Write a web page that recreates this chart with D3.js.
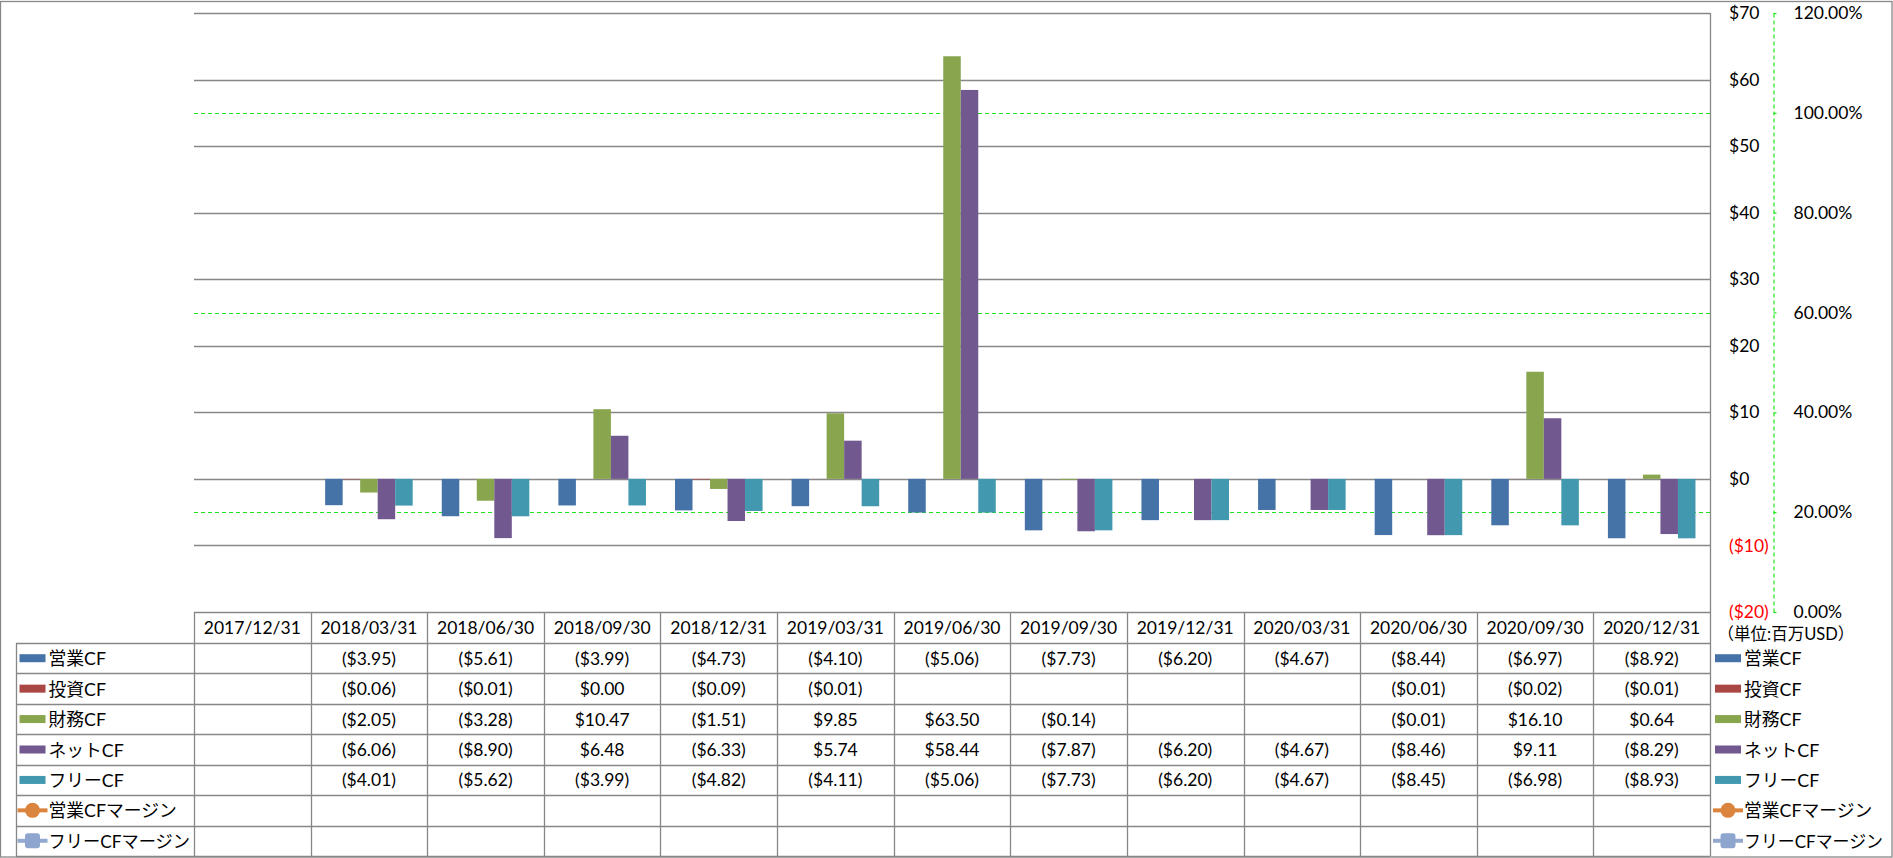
<!DOCTYPE html>
<html>
<head>
<meta charset="utf-8">
<script src="https://cdn.jsdelivr.net/npm/d3@7"></script>
<style>
  html, body { margin: 0; padding: 0; background: #fff; }
  svg { display: block; }
  text { font-family: Lato, "Noto Sans CJK JP", sans-serif; fill: #000; }
</style>
</head>
<body>
<svg id="chart" width="1893" height="858"></svg>
<script>
// ---------- data ----------
const categories = ["2017/12/31","2018/03/31","2018/06/30","2018/09/30","2018/12/31","2019/03/31","2019/06/30","2019/09/30","2019/12/31","2020/03/31","2020/06/30","2020/09/30","2020/12/31"];
const barSeries = ["営業CF","投資CF","財務CF","ネットCF","フリーCF"];
const lineSeries = ["営業CFマージン","フリーCFマージン"];
const opCF   = [null,-3.95,-5.61,-3.99,-4.73,-4.10,-5.06,-7.73,-6.20,-4.67,-8.44,-6.97,-8.92];
const invCF  = [null,-0.06,-0.01, 0.00,-0.09,-0.01, null, null, null, null,-0.01,-0.02,-0.01];
const finCF  = [null,-2.05,-3.28,10.47,-1.51, 9.85,63.50,-0.14, null, null,-0.01,16.10, 0.64];
const netCF  = [null,-6.06,-8.90, 6.48,-6.33, 5.74,58.44,-7.87,-6.20,-4.67,-8.46, 9.11,-8.29];
const freeCF = [null,-4.01,-5.62,-3.99,-4.82,-4.11,-5.06,-7.73,-6.20,-4.67,-8.45,-6.98,-8.93];
const opMargin   = [null,null,null,null,null,null,null,null,null,null,null,null,null];
const freeMargin = [null,null,null,null,null,null,null,null,null,null,null,null,null];
const usdTicks = [-20,-10,0,10,20,30,40,50,60,70];
const pctTicks = [0,0.2,0.4,0.6,0.8,1.0,1.2];
const unitLabel = "（単位:百万USD）";

const barValues = [opCF, invCF, finCF, netCF, freeCF];
const lineValues = [opMargin, freeMargin];
const barColors = ["#4572A7","#AA4643","#89A54E","#71588F","#4198AF"];
const lineColors = ["#DB843D","#93A9CF"];

// ---------- layout ----------
const W = 1893, H = 858;
const plotL = 194, plotR = 1710, plotT = 13, plotB = 612;
const tableTop = 612, headerB = 643, tableB = 856, labelL = 16;
const gridColor = "#878787";
const fontSize = 17.5;
const labelFont = 17.8;

const svg = d3.select("#chart");

const x = d3.scaleBand().domain(categories).range([plotL, plotR]).paddingInner(0).paddingOuter(0);
const xs = d3.scaleBand().domain(barSeries).range([0, x.bandwidth()]).paddingInner(0).paddingOuter(0.83);
const y = d3.scaleLinear().domain([-20, 70]).range([plotB, plotT]);
const y2 = d3.scaleLinear().domain([0, 1.2]).range([plotB, plotT]);

// outer border
svg.append("rect").attr("x", 0.5).attr("y", 1.5).attr("width", W - 1.5).attr("height", H - 2.5)
  .attr("fill", "none").attr("stroke", gridColor).attr("stroke-width", 1.3);

// green dashed gridlines (secondary axis)
svg.append("g").selectAll("line").data(pctTicks).join("line")
  .attr("x1", plotL).attr("x2", plotR)
  .attr("y1", d => Math.round(y2(d)) + 0.5).attr("y2", d => Math.round(y2(d)) + 0.5)
  .attr("stroke", "#1EE61E").attr("stroke-width", 1.2).attr("stroke-dasharray", "4,3");

// grey gridlines (primary axis)
svg.append("g").selectAll("line").data(usdTicks.filter(d => d > -20)).join("line")
  .attr("x1", plotL).attr("x2", plotR)
  .attr("y1", d => Math.round(y(d)) + 0.5).attr("y2", d => Math.round(y(d)) + 0.5)
  .attr("stroke", gridColor).attr("stroke-width", 1.3);

// plot right border
svg.append("line").attr("x1", plotR + 0.5).attr("x2", plotR + 0.5).attr("y1", plotT).attr("y2", tableB)
  .attr("stroke", gridColor).attr("stroke-width", 1.3);

// bars
const barG = svg.append("g");
barSeries.forEach((s, si) => {
  const data = categories.map((c, ci) => ({c, v: barValues[si][ci]})).filter(d => d.v != null);
  barG.append("g").selectAll("rect").data(data).join("rect")
    .attr("x", d => x(d.c) + xs(s))
    .attr("width", xs.bandwidth())
    .attr("y", d => y(Math.max(0, d.v)))
    .attr("height", d => Math.abs(y(d.v) - y(0)))
    .attr("fill", barColors[si]);
});

// margin lines (no data)
lineSeries.forEach((s, li) => {
  const pts = categories.map((c, ci) => ({c, v: lineValues[li][ci]})).filter(d => d.v != null);
  svg.append("path").datum(pts)
    .attr("fill", "none").attr("stroke", lineColors[li]).attr("stroke-width", 3)
    .attr("d", d3.line().x(d => x(d.c) + x.bandwidth() / 2).y(d => y2(d.v)));
});

// primary right axis ($)
const fmtUSD = v => v < 0 ? "($" + (-v) + ")" : "$" + v;
const axisUSD = svg.append("g").attr("transform", `translate(${plotR},0)`)
  .call(d3.axisRight(y).tickValues(usdTicks).tickFormat(fmtUSD).tickSize(0).tickPadding(19));
axisUSD.select(".domain").remove();
axisUSD.selectAll("text").attr("font-size", fontSize).attr("font-family", "Lato, sans-serif")
  .style("fill", d => d < 0 ? "#FF0000" : "#000");

// secondary axis (%)
const axisPct = svg.append("g").attr("transform", "translate(1773.5,0)")
  .call(d3.axisRight(y2).tickValues(pctTicks).tickFormat(d3.format(".2%")).tickSizeInner(3).tickSizeOuter(0).tickPadding(17));
axisPct.select(".domain").attr("stroke", "#1EE61E").attr("stroke-width", 1.2).attr("stroke-dasharray", "4,3");
axisPct.selectAll(".tick line").attr("stroke", "#1EE61E").attr("stroke-width", 1.2);
axisPct.selectAll("text").attr("font-size", fontSize).attr("font-family", "Lato, sans-serif").style("fill", "#000");

// ---------- data table ----------
const rowLabels = barSeries.concat(lineSeries);
const rowH = (tableB - headerB) / rowLabels.length;
const tg = svg.append("g");

// horizontal lines
tg.append("line").attr("x1", plotL).attr("x2", plotR).attr("y1", tableTop + 0.5).attr("y2", tableTop + 0.5)
  .attr("stroke", gridColor).attr("stroke-width", 1.3);
tg.selectAll("line.h").data(d3.range(rowLabels.length + 1)).join("line").attr("class", "h")
  .attr("x1", labelL).attr("x2", plotR)
  .attr("y1", i => Math.round(headerB + i * rowH) + 0.5).attr("y2", i => Math.round(headerB + i * rowH) + 0.5)
  .attr("stroke", gridColor).attr("stroke-width", 1.3);
// vertical lines
tg.selectAll("line.v").data(categories).join("line").attr("class", "v")
  .attr("x1", c => Math.round(x(c)) + 0.5).attr("x2", c => Math.round(x(c)) + 0.5)
  .attr("y1", tableTop).attr("y2", tableB)
  .attr("stroke", gridColor).attr("stroke-width", 1.3);
tg.append("line").attr("x1", labelL + 0.5).attr("x2", labelL + 0.5).attr("y1", headerB).attr("y2", tableB)
  .attr("stroke", gridColor).attr("stroke-width", 1.3);

// header text
tg.selectAll("text.hd").data(categories).join("text").attr("class", "hd")
  .attr("x", c => x(c) + x.bandwidth() / 2).attr("y", (tableTop + headerB) / 2)
  .attr("text-anchor", "middle").attr("dominant-baseline", "central")
  .attr("font-size", fontSize).text(c => c);

// values
const fmtVal = v => v == null ? "" : (v < 0 ? "($" + (-v).toFixed(2) + ")" : "$" + v.toFixed(2));
barSeries.forEach((s, si) => {
  tg.append("g").selectAll("text").data(categories.map((c, ci) => ({c, v: barValues[si][ci]}))).join("text")
    .attr("x", d => x(d.c) + x.bandwidth() / 2)
    .attr("y", headerB + (si + 0.5) * rowH)
    .attr("text-anchor", "middle").attr("dominant-baseline", "central")
    .attr("font-size", fontSize).text(d => fmtVal(d.v));
});

// legend keys (row labels, left) and right legend
function drawKey(g, i, kx, maxRight) {
  const cy = headerB + (i + 0.5) * rowH;
  if (i < barSeries.length) {
    g.append("rect").attr("x", kx).attr("y", cy - 4).attr("width", 26).attr("height", 8).attr("fill", barColors[i]);
  } else {
    const li = i - barSeries.length;
    g.append("line").attr("x1", kx - 2).attr("x2", kx + 28).attr("y1", cy).attr("y2", cy)
      .attr("stroke", lineColors[li]).attr("stroke-width", 4);
    if (li === 0) {
      g.append("circle").attr("cx", kx + 13).attr("cy", cy).attr("r", 7.5).attr("fill", lineColors[li]);
    } else {
      g.append("rect").attr("x", kx + 5.5).attr("y", cy - 7.5).attr("width", 15).attr("height", 15)
        .attr("rx", 3).attr("fill", "#8EA5CD");
    }
  }
  const t = g.append("text").attr("x", kx + 29).attr("y", cy).attr("dominant-baseline", "central")
    .attr("font-size", labelFont).text(rowLabels[i]);
  const avail = maxRight - (kx + 29);
  const len = t.node().getComputedTextLength();
  if (len > avail) t.attr("textLength", avail).attr("lengthAdjust", "spacingAndGlyphs");
}
const leftKeys = svg.append("g");
const rightKeys = svg.append("g");
rowLabels.forEach((s, i) => { drawKey(leftKeys, i, 19.5, plotL - 4); drawKey(rightKeys, i, 1715, W - 10); });

// unit label
svg.append("text").attr("x", 1786).attr("y", 634).attr("text-anchor", "middle")
  .attr("dominant-baseline", "central").attr("font-size", 16.5).text(unitLabel);
</script>
</body>
</html>
